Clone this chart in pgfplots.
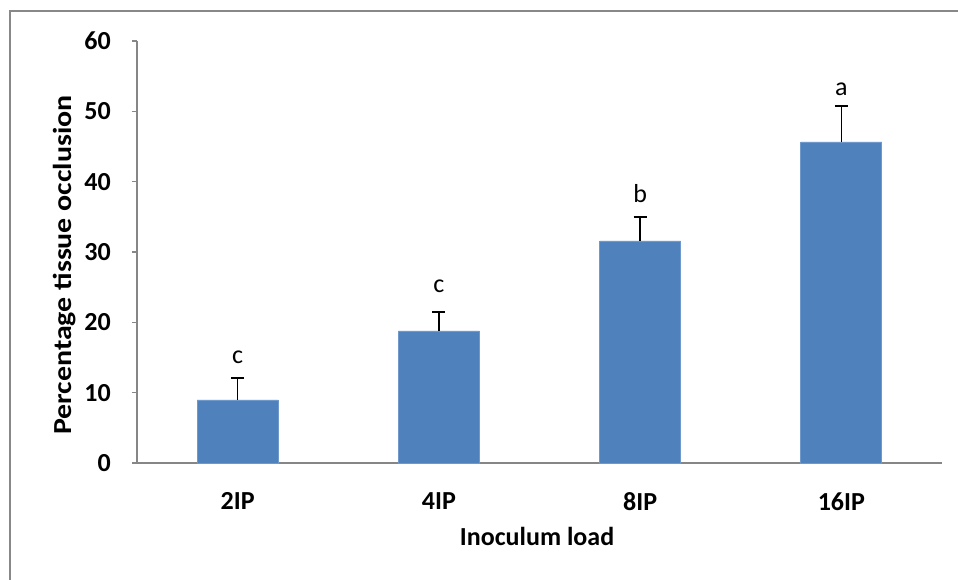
\documentclass[border=0pt]{standalone}
\usepackage{pgfplots}
\pgfplotsset{compat=1.18}
\usepackage{graphicx}
\usepackage{fontspec}
\setmainfont{Carlito}
\definecolor{barblue}{HTML}{4F81BD}
\definecolor{baredge}{HTML}{6F98CB}
\definecolor{axgray}{HTML}{868686}
\definecolor{framegray}{HTML}{888888}
\newcommand{\cf}{\fontsize{19.5}{23}\selectfont}
\begin{document}
\begin{tikzpicture}[x=1pt,y=1pt]
\useasboundingbox (0,0) rectangle (718.5,435);
\draw[framegray, line width=1.5pt] (7.5,-2) -- (7.5,426.4) -- (720,426.4);
\begin{axis}[
  at={(102.75pt,87.75pt)}, anchor=south west,
  scale only axis, width=603.75pt, height=316.5pt,
  xmin=-0.5, xmax=3.5, ymin=0, ymax=60,
  clip=false,
  axis x line*=bottom, axis y line*=left,
  axis line style={axgray, line width=1.1pt, -},
  xtick={0,1,2,3}, xticklabels={2IP,4IP,8IP,16IP},
  xtick style={draw=none},
  ytick={0,10,20,30,40,50,60},
  ytick style={axgray, line width=1.1pt},
  tick align=outside, major tick length=3.75pt,
  /pgf/number format/assume math mode=true,
  ticklabel style={font=\cf\bfseries},
  yticklabel style={anchor=east, inner sep=0pt, xshift=-15.75pt},
  xticklabel style={anchor=north, inner sep=0pt, yshift=-18.5pt},
  every axis x label/.style={at={(axis description cs:0.497,0)}, anchor=base, yshift=-62.25pt, font=\cf\bfseries},
  every axis y label/.style={at={(axis description cs:-0.0905,0.469)}, anchor=center, rotate=90, font=\cf\bfseries},
  xlabel={Inoculum load},
  ylabel={\scalebox{1.15}[1]{Percentage tissue occlusion}},
]
\addplot[ybar, bar width=60.75pt, bar shift=0pt, fill=barblue, draw=baredge, line width=0.6pt,
  error bars/.cd, y dir=plus, y explicit,
  error bar style={black, line width=1.1pt},
  error mark options={black, line width=1.1pt, mark size=4.9pt, rotate=90}]
  table[x=x, y=y, y error=e] {
x y e
0 8.96 3.13
1 18.77 2.70
2 31.57 3.41
3 45.64 5.12
};
\addplot[draw=none, mark=none, nodes near coords, point meta=explicit symbolic,
  every node near coord/.style={anchor=base, inner sep=0pt, font=\cf, black}]
  table[x=x, y=y, meta=lab] {
x y lab
0 14.08 c
1 24.17 c
2 36.97 b
3 52.32 a
};
\end{axis}
\end{tikzpicture}
\end{document}
